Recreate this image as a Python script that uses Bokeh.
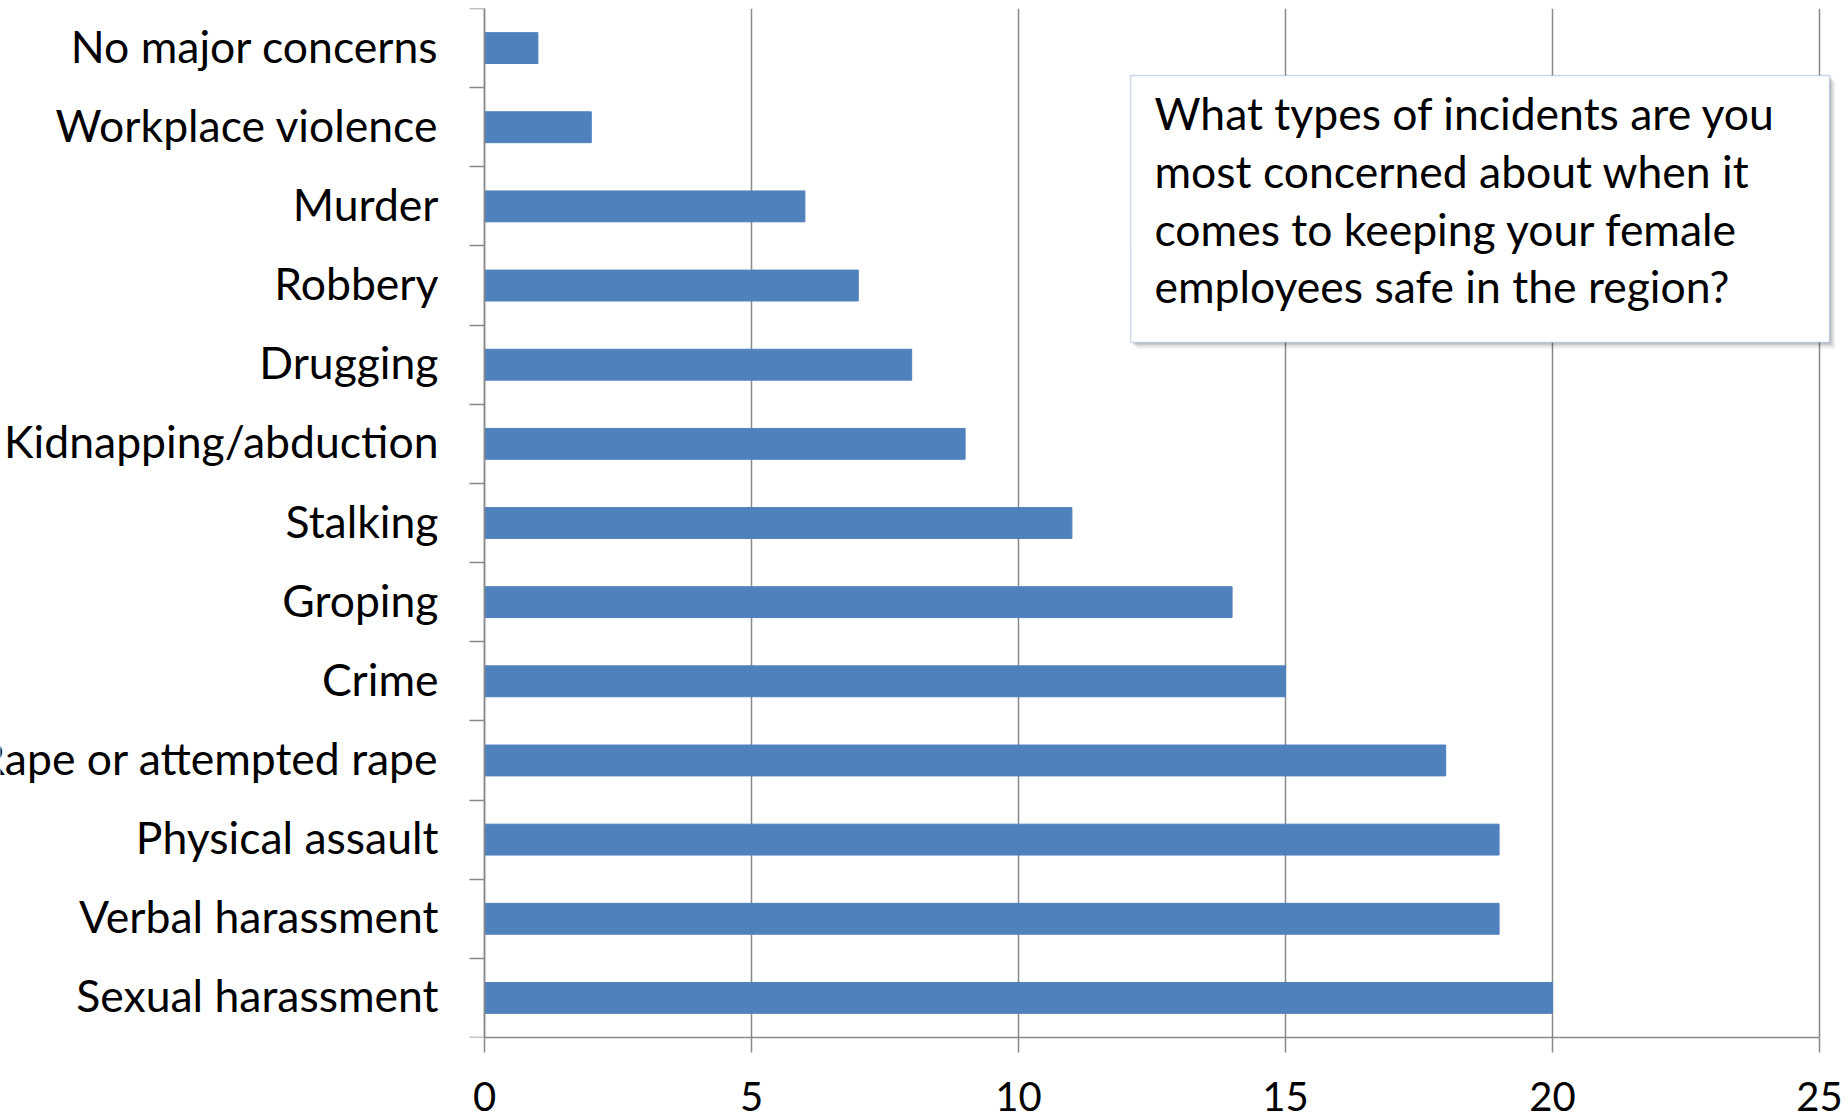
from bokeh.plotting import figure
from bokeh.models import ColumnDataSource, FixedTicker, Label, BoxAnnotation
from bokeh.core.properties import value
from bokeh.embed import file_html
from bokeh.resources import INLINE

# ---- data ----
categories = [
    "Sexual harassment", "Verbal harassment", "Physical assault",
    "Rape or attempted rape", "Crime", "Groping", "Stalking",
    "Kidnapping/abduction", "Drugging", "Robbery", "Murder",
    "Workplace violence", "No major concerns",
]
counts = [20, 19, 19, 18, 15, 14, 11, 9, 8, 7, 6, 2, 1]
x_ticks = [0, 5, 10, 15, 20, 25]
question = ("What types of incidents are you\n"
            "most concerned about when it\n"
            "comes to keeping your female\n"
            "employees safe in the region?")

FONT = "Lato"
GRAY = "#898989"
BLUE = "#4F81BD"

# layout: 53.4 px per unit, value 0 sits 484 px from the left edge
PX = 53.4
x_start = -484 / PX

positions = [i + 0.5 for i in range(len(categories))]
boundaries = list(range(len(categories) + 1))

src = ColumnDataSource(dict(y=positions, right=counts, name=categories,
                            zero=[0] * len(categories)))

p = figure(width=1848, height=1117, x_range=(x_start, 25.3),
           y_range=(0, len(categories)),
           output_backend="svg", toolbar_location=None,
           min_border_left=0, min_border_right=13, min_border_top=8,
           min_border_bottom=80)
p.outline_line_color = None
p.background_fill_color = "white"

p.hbar(y="y", left="zero", right="right", height=0.39, source=src,
       fill_color=BLUE, line_color=BLUE)

# category labels, right-aligned left of the value axis
p.text(x="zero", y="y", text="name", source=src, x_offset=-46, y_offset=-3,
       text_align="right", text_baseline="middle",
       text_font=value(FONT), text_font_size="44.5px", text_color="black")

# x axis
p.xaxis.ticker = FixedTicker(ticks=x_ticks)
p.xaxis.bounds = (0, 25)
p.xaxis.major_tick_out = 15
p.xaxis.major_tick_in = 0
p.xaxis.minor_tick_line_color = None
p.xaxis.axis_line_color = GRAY
p.xaxis.axis_line_width = 1.5
p.xaxis.major_tick_line_color = GRAY
p.xaxis.major_tick_line_width = 1.5
p.xaxis.major_label_text_font = FONT
p.xaxis.major_label_text_font_size = "40px"
p.xaxis.major_label_text_color = "black"
p.xaxis.major_label_standoff = 29

# y axis (category separators) fixed at x = 0
p.yaxis.fixed_location = 0
p.yaxis.ticker = FixedTicker(ticks=boundaries)
p.yaxis.major_tick_out = 15
p.yaxis.major_tick_in = 0
p.yaxis.minor_tick_line_color = None
p.yaxis.axis_line_color = GRAY
p.yaxis.axis_line_width = 1.5
p.yaxis.major_tick_line_color = GRAY
p.yaxis.major_tick_line_width = 1.5
p.yaxis.major_label_text_font_size = "1px"
p.yaxis.major_label_text_color = None

p.xgrid.ticker = FixedTicker(ticks=x_ticks)
p.xgrid.grid_line_color = GRAY
p.xgrid.grid_line_width = 1.5
p.ygrid.grid_line_color = None

# question box
for dx, dy, a in [(0.11, 0.075, 0.06), (0.075, 0.05, 0.08), (0.04, 0.028, 0.10)]:
    p.add_layout(BoxAnnotation(left=12.10 + dx, right=25.19 + dx, top=12.153 - dy,
                               bottom=8.78 - dy, fill_color="#000000", fill_alpha=a,
                               line_color=None))
p.add_layout(BoxAnnotation(left=12.10, right=25.19, top=12.153, bottom=8.78,
                           fill_color="white", fill_alpha=1.0, line_color=BLUE,
                           line_width=1.5))
p.add_layout(Label(x=12.547, y=12.015, text=question, text_align="left",
                   text_baseline="top", text_font=FONT, text_font_size="44.5px",
                   text_color="black", text_line_height=1.087))

open("out.html", "w").write(file_html(p, INLINE))
